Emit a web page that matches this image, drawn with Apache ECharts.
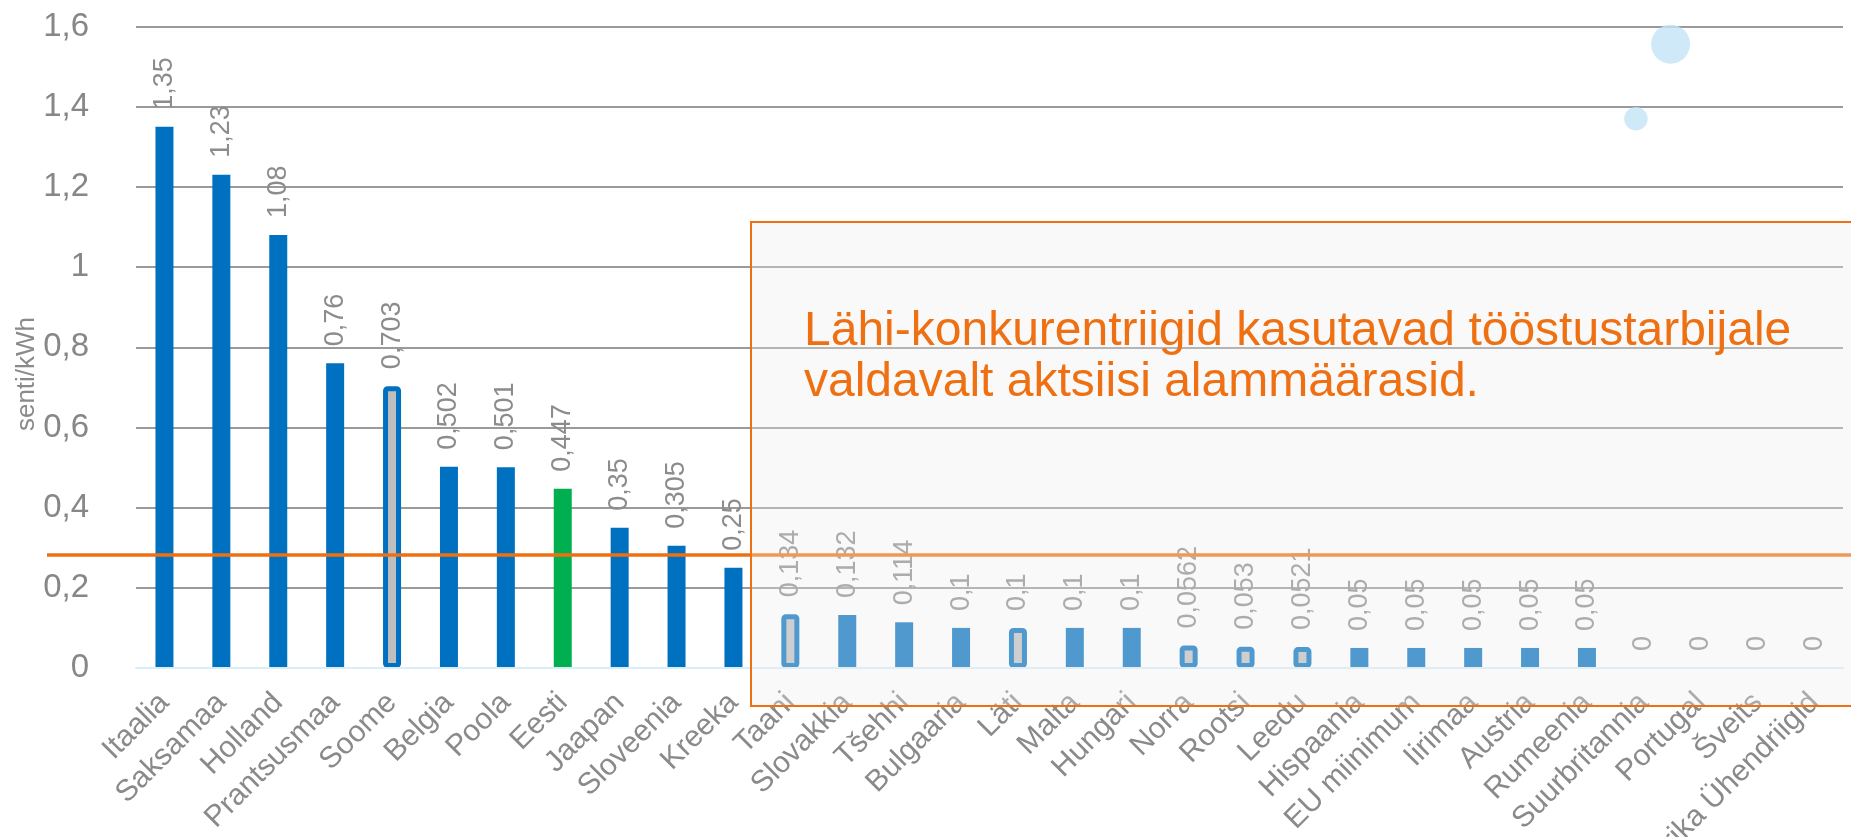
<!DOCTYPE html>
<html><head><meta charset="utf-8">
<script src="https://cdn.jsdelivr.net/npm/echarts@6/dist/echarts.min.js"></script>
<style>html,body{margin:0;padding:0;background:#fff;} #c{width:1851px;height:837px;}</style>
</head><body><div id="c"></div>
<script>
// ---- data ----
const categories = ['Itaalia','Saksamaa','Holland','Prantsusmaa','Soome','Belgia','Poola','Eesti','Jaapan','Sloveenia','Kreeka','Taani','Slovakkia','Tšehhi','Bulgaaria','Läti','Malta','Hungari','Norra','Rootsi','Leedu','Hispaania','EU miinimum','Iirimaa','Austria','Rumeenia','Suurbritannia','Portugal','Šveits','Ameerika Ühendriigid'];
const values = [1.35,1.23,1.08,0.76,0.703,0.502,0.501,0.447,0.35,0.305,0.25,0.134,0.132,0.114,0.1,0.1,0.1,0.1,0.0562,0.053,0.0521,0.05,0.05,0.05,0.05,0.05,0,0,0,0];
const outlinedCategories = ['Soome','Taani','Läti','Norra','Rootsi','Leedu'];
const homeCategory = 'Eesti';
const yTickValues = [0,0.2,0.4,0.6,0.8,1,1.2,1.4,1.6];
const referenceLevel = [0.282];
const bubbleX = [26.47, 25.86];
const bubbleY = [1.556, 1.370];
const bubbleSize = [39, 23.5];
const noteLines = ['Lähi-konkurentriigid kasutavad tööstustarbijale', 'valdavalt aktsiisi alammäärasid.'];
const yAxisTitle = 'senti/kWh';

// ---- chart ----
const FONT = '"Liberation Sans", Arial, sans-serif';
const chart = echarts.init(document.getElementById('c'), null, {renderer: 'canvas'});
const fmt = v => String(+(+v).toFixed(4)).replace('.', ',');

const barData = values.map((v, i) => {
  const c = categories[i];
  if (outlinedCategories.includes(c)) {
    return {value: v, itemStyle: {color: '#BFBFBF', borderColor: '#0070C0', borderWidth: 5, borderRadius: 2}};
  }
  if (c === homeCategory) return {value: v, itemStyle: {color: '#00B050'}};
  return v;
});

chart.setOption({
  animation: false,
  backgroundColor: '#ffffff',
  grid: {left: 136, right: 8, top: 26.5, bottom: 169, containLabel: false, outerBoundsMode: 'none'},
  xAxis: [{
    type: 'category', data: categories, z: 3,
    axisTick: {show: false},
    axisLine: {lineStyle: {color: '#DAEEF9', width: 2}},
    axisLabel: {interval: 0, rotate: 45, margin: 30, color: '#8A8A8A', fontSize: 30, fontFamily: FONT}
  }, {
    type: 'value', min: -0.5, max: 29.5, show: false
  }],
  yAxis: {
    type: 'value', min: yTickValues[0], max: yTickValues[yTickValues.length - 1], interval: yTickValues[1] - yTickValues[0],
    axisLine: {show: false}, axisTick: {show: false},
    splitLine: {lineStyle: {color: '#9A9A9A', width: 2}},
    axisLabel: {margin: 47, color: '#878787', fontSize: 33, fontFamily: FONT, formatter: v => fmt(v)}
  },
  series: [{
    type: 'bar', data: barData, barWidth: 18,
    itemStyle: {color: '#0070C0'},
    label: {show: true, position: 'top', distance: 17, rotate: 90, align: 'left', verticalAlign: 'middle',
      color: '#8C8C8C', fontSize: 27, fontFamily: FONT, formatter: p => fmt(p.value)}
  }, {
    type: 'scatter', xAxisIndex: 1, silent: true,
    data: bubbleX.map((x, i) => [x, bubbleY[i], bubbleSize[i]]),
    symbolSize: d => d[2],
    itemStyle: {color: '#C3E4F6'}
  }]
});

const yRef = chart.convertToPixel({yAxisIndex: 0}, referenceLevel[0]);
chart.setOption({
  graphic: [
    {type: 'line', z: 50, shape: {x1: 47, y1: yRef, x2: 1851, y2: yRef}, style: {stroke: '#F07010', lineWidth: 3.5}},
    {type: 'rect', z: 100, shape: {x: 751, y: 222, width: 1120, height: 484},
      style: {fill: 'rgba(237,237,237,0.333)', stroke: '#EE7012', lineWidth: 2}},
    {type: 'text', z: 101, x: 804, y: 306,
      style: {text: noteLines.join('\n'), fill: '#EE7012', font: '48px "Liberation Sans", Arial, sans-serif', lineHeight: 51}},
    {type: 'text', z: 10, x: 27, y: 374, rotation: Math.PI / 2,
      style: {text: yAxisTitle, fill: '#8A8A8A', font: '26px "Liberation Sans", Arial, sans-serif', align: 'center', verticalAlign: 'middle'}}
  ]
});
</script></body></html>
